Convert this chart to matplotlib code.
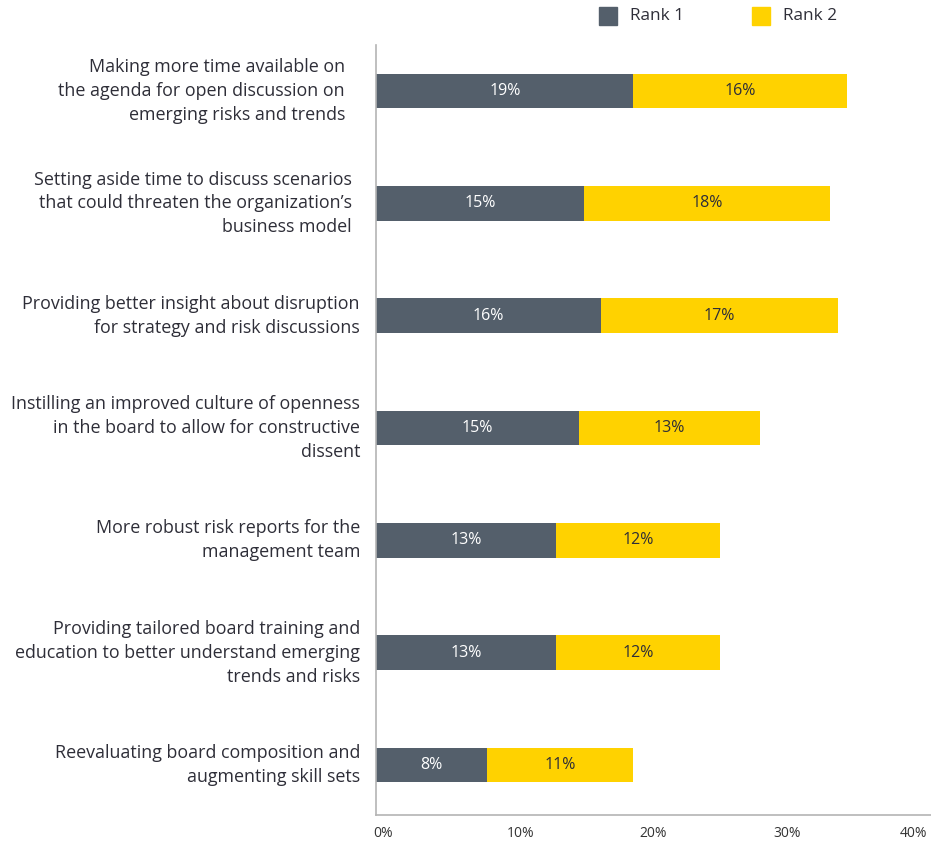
import matplotlib
matplotlib.use("Agg")
import matplotlib.pyplot as plt
from matplotlib.patches import Rectangle
import matplotlib.transforms as mtransforms

categories = [
    "Making more time available on\nthe agenda for open discussion on\nemerging risks and trends",
    "Setting aside time to discuss scenarios\nthat could threaten the organization\u2019s\nbusiness model",
    "Providing better insight about disruption\nfor strategy and risk discussions",
    "Instilling an improved culture of openness\nin the board to allow for constructive\ndissent",
    "More robust risk reports for the\nmanagement team",
    "Providing tailored board training and\neducation to better understand emerging\ntrends and risks",
    "Reevaluating board composition and\naugmenting skill sets",
]
rank1 = [19.3, 15.6, 16.9, 15.2, 13.5, 13.5, 8.3]
rank2 = [16.0, 18.4, 17.7, 13.6, 12.3, 12.3, 11.0]
rank1_labels = ["19%", "15%", "16%", "15%", "13%", "13%", "8%"]
rank2_labels = ["16%", "18%", "17%", "13%", "12%", "12%", "11%"]
series_names = ["Rank 1", "Rank 2"]
xticks = [0, 10, 20, 30, 40]
xtick_labels = ["0%", "10%", "20%", "30%", "40%"]

plt.rcParams['font.family'] = ['Open Sans', 'DejaVu Sans']
C1 = "#545f6b"
C2 = "#ffd200"
TXT = "#2e2e38"

W, H = 931, 841
fig = plt.figure(figsize=(W / 100, H / 100), dpi=100)
ax = fig.add_axes([376 / W, 1 - 815 / H, 1 - 376 / W, (815 - 45) / H])

y = list(range(len(categories)))
h = 0.31
ax.barh(y, rank1, height=h, color=C1)
ax.barh(y, rank2, left=rank1, height=h, color=C2)
for i in y:
    ax.text(rank1[i] / 2, i, rank1_labels[i], ha="center", va="center",
            color="white", fontsize=11.5)
    ax.text(rank1[i] + rank2[i] / 2, i, rank2_labels[i], ha="center",
            va="center", color=TXT, fontsize=11.5)

ax.set_xlim(0, 41.6)
ax.set_ylim(6.445, -0.41)
ax.set_xticks(xticks)
ax.set_xticklabels(xtick_labels, fontsize=10, color="#333333", ha="left")
ax.tick_params(axis="x", length=0, pad=8)
for k, lbl in enumerate(ax.get_xticklabels()):
    dx = -10 if k == len(xticks) - 1 else -3
    off = mtransforms.ScaledTranslation(dx / 100, 0, fig.dpi_scale_trans)
    lbl.set_transform(lbl.get_transform() + off)
ax.set_yticks([])
for s in ["top", "right"]:
    ax.spines[s].set_visible(False)
for s in ["left", "bottom"]:
    ax.spines[s].set_color("#b4b4b4")
    ax.spines[s].set_linewidth(1.2)

right_edges = [345, 352, 360, 360, 360, 360, 360]
for i, lab in enumerate(categories):
    ax.text((right_edges[i] - 376) / (W - 376), i, lab,
            transform=ax.get_yaxis_transform(), ha="right", va="center",
            fontsize=12.9, color=TXT, linespacing=1.42)

# legend
for (x0, name, col) in [(599, series_names[0], C1), (752, series_names[1], C2)]:
    fig.patches.append(Rectangle((x0 / W, 1 - 25 / H), 18 / W, 18 / H,
                                 transform=fig.transFigure, color=col))
    fig.text((x0 + 31) / W, 1 - 16 / H, name, ha="left", va="center",
             fontsize=12.3, color=TXT)

fig.savefig("out.png", dpi=100)
